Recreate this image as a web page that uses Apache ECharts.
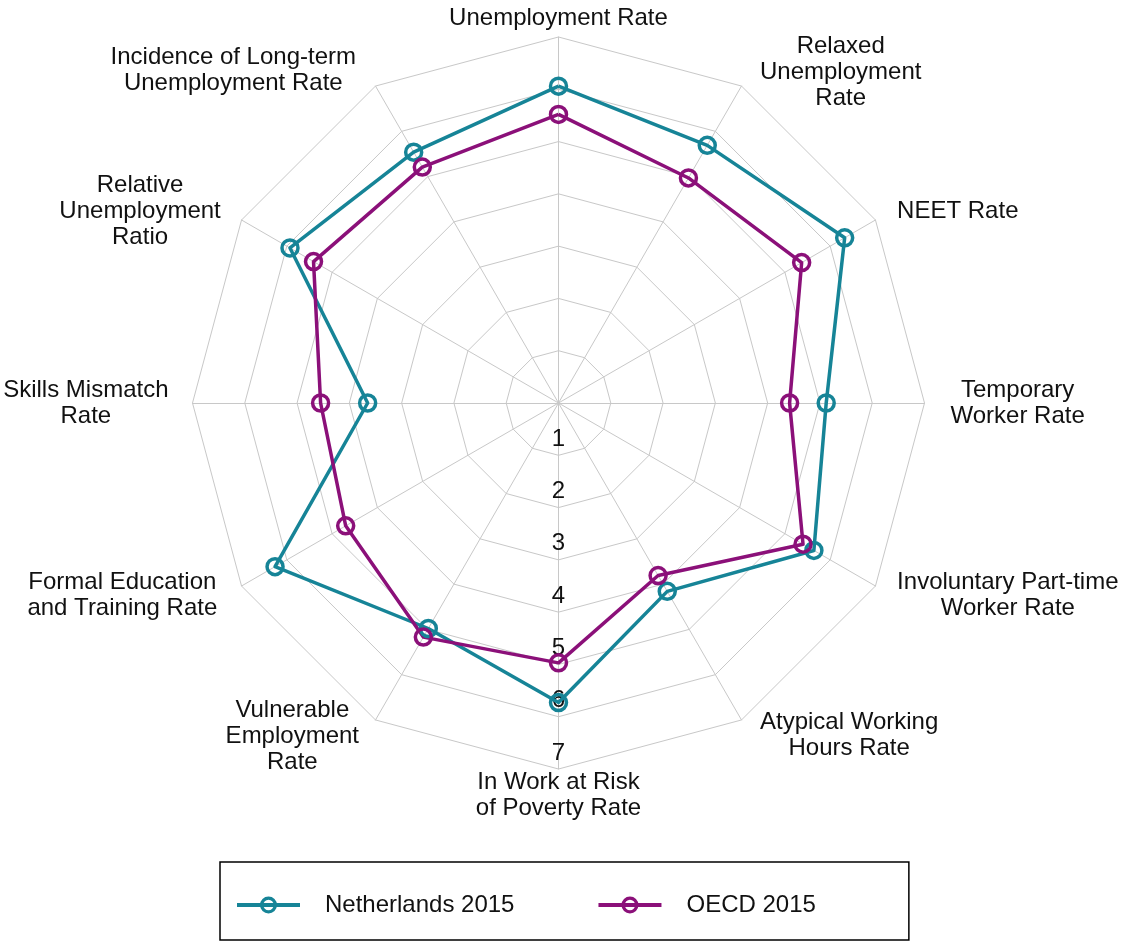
<!DOCTYPE html>
<html>
<head>
<meta charset="utf-8">
<script src="https://cdn.jsdelivr.net/npm/echarts@6/dist/echarts.min.js"></script>
<style>html,body{margin:0;padding:0;background:#fff}#c{width:1124px;height:942px}</style>
</head>
<body>
<div id="c"></div>
<script>
// Indicators, clockwise from the top
const indicatorNames = [
  'Unemployment Rate',
  'Relaxed\nUnemployment\nRate',
  'NEET Rate',
  'Temporary\nWorker Rate',
  'Involuntary Part-time\nWorker Rate',
  'Atypical Working\nHours Rate',
  'In Work at Risk\nof Poverty Rate',
  'Vulnerable\nEmployment\nRate',
  'Formal Education\nand Training Rate',
  'Skills Mismatch\nRate',
  'Relative\nUnemployment\nRatio',
  'Incidence of Long-term\nUnemployment Rate'
];
const netherlands2015 = [6.06, 5.69, 6.32, 5.12, 5.64, 4.16, 5.73, 4.98, 6.26, 3.65, 5.93, 5.54];
const oecd2015        = [5.52, 4.97, 5.37, 4.42, 5.40, 3.81, 4.97, 5.17, 4.70, 4.55, 5.41, 5.21];
const ringTicks = [1, 2, 3, 4, 5, 6, 7];
const seriesNames = ['Netherlands 2015', 'OECD 2015'];
const tickAxisIndex = 6; // axis carrying the ring labels

// styling (not data)
const FONT = "'Liberation Sans', Arial, sans-serif";
const COLORS = ['#168497', '#8B1079'];
const GRID = '#c8c8c8';
const nameLayout = [
  {gap: 6},
  {gap: 37, pad: [36, 0, 0, 0]},
  {gap: 25, pad: [7, 0, 0, 0]},
  {gap: 26},
  {gap: 25, pad: [0, 0, 6, 0]},
  {gap: 37, pad: [0, 0, 34, 0]},
  {gap: -7},
  {gap: 33, pad: [0, 0, 25, 0]},
  {gap: 28, pad: [0, 0, 10, 0]},
  {gap: 24},
  {gap: 24, pad: [7, 0, 0, 0]},
  {gap: 39, pad: [37, 0, 0, 0]}
];

const n = indicatorNames.length;
// ECharts places radar indicators counter-clockwise; map to clockwise order
const order = indicatorNames.map((_, j) => (n - j) % n);
const maxVal = ringTicks[ringTicks.length - 1];

const indicators = order.map(i => {
  const o = {name: indicatorNames[i], min: 0, max: maxVal, nameGap: nameLayout[i].gap};
  if (nameLayout[i].pad) o.nameTextStyle = {padding: nameLayout[i].pad};
  if (i === tickAxisIndex) {
    o.axisLabel = {
      show: true, fontSize: 24, color: '#111', fontFamily: FONT,
      margin: 0, align: 'center', verticalAlign: 'bottom', lineHeight: 24,
      padding: [0, 0, 4, 0],
      formatter: v => ringTicks.indexOf(v) >= 0 ? String(v) : ''
    };
  }
  return o;
});

const legendIcon = 'path://M0,6.5H63V10.5H0Z M31.5,0A8.5,8.5 0 1 1 31.5,17A8.5,8.5 0 1 1 31.5,0Z M31.5,3.3A5.2,5.2 0 1 0 31.5,13.7A5.2,5.2 0 1 0 31.5,3.3Z';

const seriesValues = [netherlands2015, oecd2015];

const chart = echarts.init(document.getElementById('c'), null, {renderer: 'canvas'});
chart.setOption({
  animation: false,
  backgroundColor: '#fff',
  color: COLORS,
  legend: {
    data: seriesNames.map((nm, k) => ({name: nm, icon: legendIcon, itemStyle: {color: COLORS[k], borderWidth: 0}})),
    left: 220, top: 862, orient: 'horizontal',
    itemWidth: 63, itemHeight: 17, itemGap: 84,
    padding: [31, 93, 23, 17],
    borderColor: '#000', borderWidth: 1.5,
    selectedMode: false,
    textStyle: {fontSize: 24, color: '#111', fontFamily: FONT, padding: [0, 0, 0, 20]}
  },
  radar: {
    center: [558.5, 403],
    radius: 366,
    startAngle: 90,
    shape: 'polygon',
    splitNumber: ringTicks.length,
    indicator: indicators,
    axisName: {
      color: '#111', fontSize: 24, fontFamily: FONT, lineHeight: 26,
      formatter: name => name.split('\n').map(s => '{c|' + s + '}').join('\n'),
      rich: {c: {align: 'center', fontSize: 24, lineHeight: 26, fontFamily: FONT, color: '#111'}}
    },
    axisLine: {show: true, lineStyle: {color: GRID, width: 1}},
    axisTick: {show: false},
    axisLabel: {show: false},
    splitLine: {show: true, lineStyle: {color: GRID, width: 1}},
    splitArea: {show: false}
  },
  series: [{
    type: 'radar',
    symbol: 'circle',
    symbolSize: 16,
    emphasis: {disabled: true},
    data: seriesNames.map((nm, k) => ({
      name: nm,
      value: order.map(i => seriesValues[k][i]),
      itemStyle: {color: 'rgba(0,0,0,0)', borderColor: COLORS[k], borderWidth: 3.5},
      lineStyle: {color: COLORS[k], width: 3.5}
    }))
  }]
});
</script>
</body>
</html>
